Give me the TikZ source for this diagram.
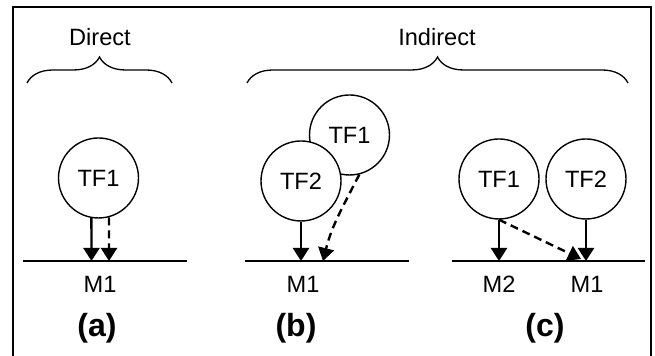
\documentclass[tikz,border=0pt]{standalone}
\usepackage{fontspec}
\setmainfont{Liberation Sans}
\usetikzlibrary{arrows.meta,decorations.pathreplacing}
\tikzset{
  tf/.style={circle,draw,line width=.7pt,fill=white,minimum size=40pt,inner sep=0pt},
  hit/.style={-{Triangle[length=6.5pt,width=8pt]},line width=1.2pt},
  dsh/.style={dash pattern=on 4pt off 2.5pt},
  lbl/.style={font=\fontsize{16}{18}\selectfont\bfseries},
  grp/.style={decorate,decoration={brace,amplitude=13pt},line width=.65pt},
  base/.style={line width=.7pt}
}
\begin{document}
\begin{tikzpicture}[x=.5pt,y=.5pt,font=\fontsize{11.8}{14}\selectfont]
\useasboundingbox (0,0) rectangle (655,356);
\draw[line width=.7pt] (13,0) -- (13,349) -- (651,349) -- (651,0);
%
\node at (100,319) (dir) {Direct};
\node at (437,319) (ind) {Indirect};
\draw[grp] (27,273) -- (172,273);
\draw[grp] (247,273) -- (628,273);
%
\node [tf] at (98.5,178) (tfa) {TF1};
\coordinate (ma1) at (91.5,95);
\coordinate (ma2) at (109,95);
\draw[base] (23,95) -- (187,95);
\node at (100,72) (m1a) {M1};
\node [lbl] at (97,28) (la) {(a)};
\path[hit] (tfa.-100) edge (ma1);
\path[hit,dsh] (tfa.-75) edge (ma2);
%
\node [tf] at (349.5,221) (tfb1) {TF1};
\node [tf] at (301,175) (tfb2) {TF2};
\coordinate (mb1) at (301,95);
\coordinate (mb2) at (323,95);
\draw[base] (245,95) -- (409,95);
\node at (303,72) (m1b) {M1};
\node [lbl] at (296,28) (lb) {(b)};
\path[hit] (tfb2.south) edge (mb1);
\path[hit,dsh] (tfb1.-76) edge[out=243,in=76] (mb2);
%
\node [tf] at (499,177) (tfc1) {TF1};
\node [tf] at (586,177) (tfc2) {TF2};
\coordinate (mc2) at (499,95);
\coordinate (mc1) at (586,95);
\coordinate (mc1x) at (581,97);
\draw[base] (452,95) -- (645,95);
\node at (499,72) (m2c) {M2};
\node at (587,72) (m1c) {M1};
\node [lbl] at (545,28) (lc) {(c)};
\path[hit] (tfc1.south) edge (mc2);
\path[hit] (tfc2.south) edge (mc1);
\path[hit,dsh] (tfc1.south) edge (mc1x);
\end{tikzpicture}
\end{document}
